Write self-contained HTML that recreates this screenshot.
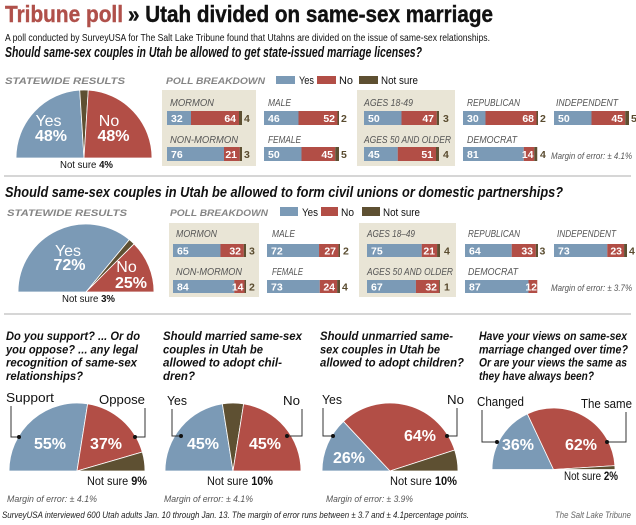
<!DOCTYPE html>
<html><head><meta charset="utf-8"><style>
html,body{margin:0;padding:0;background:#fff;}
svg{display:block;}
text{font-family:"Liberation Sans",Arial,sans-serif;}
.lab{font-size:10px;font-style:italic;fill:#555;}
.num{font-size:10.5px;font-weight:bold;fill:#fff;}
.ns{font-size:10.5px;font-weight:bold;fill:#5a4c30;}
.hd{font-size:9.5px;font-weight:bold;font-style:italic;fill:#858585;}
.lg{font-size:11px;fill:#111;}
.moe{font-size:9.5px;font-style:italic;fill:#555;}
.pw{font-size:16px;fill:#fff;}
.pb{font-size:16px;font-weight:bold;fill:#fff;}
.q{font-size:11.5px;font-weight:bold;font-style:italic;fill:#111;}
.pl{font-size:13px;fill:#111;}
.nsl{font-size:11.5px;fill:#111;}
</style></head><body>
<svg width="636" height="525" viewBox="0 0 636 525" xmlns="http://www.w3.org/2000/svg">
<rect width="636" height="525" fill="#fff"/>
<!-- Title -->
<text x="5" y="22" font-size="23" font-weight="bold" fill="#b0504a" stroke="#b0504a" stroke-width="0.4" textLength="118" lengthAdjust="spacingAndGlyphs">Tribune poll</text>
<text x="128" y="22" font-size="23" font-weight="bold" fill="#111" stroke="#111" stroke-width="0.4" textLength="365" lengthAdjust="spacingAndGlyphs">» Utah divided on same-sex marriage</text>
<text x="5" y="41" font-size="10.5" fill="#111" textLength="485" lengthAdjust="spacingAndGlyphs">A poll conducted by SurveyUSA for The Salt Lake Tribune found that Utahns are divided on the issue of same-sex relationships.</text>
<text x="5" y="57" font-size="14.5" font-weight="bold" font-style="italic" fill="#111" textLength="417" lengthAdjust="spacingAndGlyphs">Should same-sex couples in Utah be allowed to get state-issued marriage licenses?</text>

<!-- Section 1 headers -->
<text class="hd" x="5" y="84" textLength="120" lengthAdjust="spacingAndGlyphs">STATEWIDE RESULTS</text>
<text class="hd" x="166" y="84" textLength="99" lengthAdjust="spacingAndGlyphs">POLL BREAKDOWN</text>
<rect x="276" y="76" width="19" height="8" fill="#7b9ab6"/>
<text class="lg" x="299" y="84" textLength="15" lengthAdjust="spacingAndGlyphs">Yes</text>
<rect x="317" y="76" width="19" height="8" fill="#b24e46"/>
<text class="lg" x="339" y="84" textLength="14" lengthAdjust="spacingAndGlyphs">No</text>
<rect x="359" y="76" width="19" height="8" fill="#5e5032"/>
<text class="lg" x="381" y="84" textLength="37" lengthAdjust="spacingAndGlyphs">Not sure</text>

<!-- Pie 1 -->
<g stroke="#fff" stroke-width="0.8">
<path d="M84,158 L16,158 A68,68 0 0,1 79.73,90.13 Z" fill="#7b9ab6"/>
<path d="M84,158 L79.73,90.13 A68,68 0 0,1 88.27,90.13 Z" fill="#5e5032"/>
<path d="M84,158 L88.27,90.13 A68,68 0 0,1 152,158 Z" fill="#b24e46"/>
</g>
<text class="pw" x="48.5" y="126" text-anchor="middle">Yes</text>
<text class="pb" x="51" y="141" text-anchor="middle">48%</text>
<text class="pw" x="109" y="126" text-anchor="middle">No</text>
<text class="pb" x="113.5" y="141" text-anchor="middle">48%</text>
<text x="60" y="168" font-size="10" fill="#111" textLength="53" lengthAdjust="spacingAndGlyphs">Not sure <tspan font-weight="bold">4%</tspan></text>

<!-- Section 1 breakdown -->
<rect x="162" y="90" width="94" height="76" fill="#e9e5d6"/>
<rect x="357" y="90" width="98" height="76" fill="#e9e5d6"/>

<text class="lab" x="170" y="106" textLength="44" lengthAdjust="spacingAndGlyphs">MORMON</text>
<rect x="167" y="111" width="24" height="14" fill="#7b9ab6"/><rect x="191" y="111" width="48" height="14" fill="#b24e46"/><rect x="239" y="111" width="3" height="14" fill="#5e5032"/>
<text class="num" x="171" y="122">32</text><text class="num" x="236" y="122" text-anchor="end">64</text><text class="ns" x="244" y="122">4</text>

<text class="lab" x="170" y="143" textLength="68" lengthAdjust="spacingAndGlyphs">NON-MORMON</text>
<rect x="167" y="147" width="57" height="14" fill="#7b9ab6"/><rect x="224" y="147" width="15.75" height="14" fill="#b24e46"/><rect x="239.75" y="147" width="2.25" height="14" fill="#5e5032"/>
<text class="num" x="171" y="158">76</text><text class="num" x="237" y="158" text-anchor="end">21</text><text class="ns" x="244" y="158">3</text>

<text class="lab" x="268" y="106" textLength="23" lengthAdjust="spacingAndGlyphs">MALE</text>
<rect x="264" y="111" width="34.5" height="14" fill="#7b9ab6"/><rect x="298.5" y="111" width="39" height="14" fill="#b24e46"/><rect x="337.5" y="111" width="1.5" height="14" fill="#5e5032"/>
<text class="num" x="268" y="122">46</text><text class="num" x="335" y="122" text-anchor="end">52</text><text class="ns" x="341" y="122">2</text>

<text class="lab" x="268" y="143" textLength="33" lengthAdjust="spacingAndGlyphs">FEMALE</text>
<rect x="264" y="147" width="37.5" height="14" fill="#7b9ab6"/><rect x="301.5" y="147" width="33.75" height="14" fill="#b24e46"/><rect x="335.25" y="147" width="3.75" height="14" fill="#5e5032"/>
<text class="num" x="268" y="158">50</text><text class="num" x="333" y="158" text-anchor="end">45</text><text class="ns" x="341" y="158">5</text>

<text class="lab" x="364" y="106" textLength="49" lengthAdjust="spacingAndGlyphs">AGES 18-49</text>
<rect x="364" y="111" width="37.5" height="14" fill="#7b9ab6"/><rect x="401.5" y="111" width="35.25" height="14" fill="#b24e46"/><rect x="436.75" y="111" width="2.25" height="14" fill="#5e5032"/>
<text class="num" x="368" y="122">50</text><text class="num" x="434" y="122" text-anchor="end">47</text><text class="ns" x="443" y="122">3</text>

<text class="lab" x="364" y="143" textLength="87" lengthAdjust="spacingAndGlyphs">AGES 50 AND OLDER</text>
<rect x="364" y="147" width="33.75" height="14" fill="#7b9ab6"/><rect x="397.75" y="147" width="38.25" height="14" fill="#b24e46"/><rect x="436" y="147" width="3" height="14" fill="#5e5032"/>
<text class="num" x="368" y="158">45</text><text class="num" x="433" y="158" text-anchor="end">51</text><text class="ns" x="443" y="158">4</text>

<text class="lab" x="467" y="106" textLength="53" lengthAdjust="spacingAndGlyphs">REPUBLICAN</text>
<rect x="463" y="111" width="22.5" height="14" fill="#7b9ab6"/><rect x="485.5" y="111" width="51" height="14" fill="#b24e46"/><rect x="536.5" y="111" width="1.5" height="14" fill="#5e5032"/>
<text class="num" x="467" y="122">30</text><text class="num" x="534" y="122" text-anchor="end">68</text><text class="ns" x="540" y="122">2</text>

<text class="lab" x="467" y="143" textLength="50" lengthAdjust="spacingAndGlyphs">DEMOCRAT</text>
<rect x="463" y="147" width="60.75" height="14" fill="#7b9ab6"/><rect x="523.75" y="147" width="10.5" height="14" fill="#b24e46"/><rect x="534.25" y="147" width="3" height="14" fill="#5e5032"/>
<text class="num" x="467" y="158">81</text><text class="num" x="533.5" y="158" text-anchor="end">14</text><text class="ns" x="540" y="158">4</text>

<text class="lab" x="556" y="106" textLength="62" lengthAdjust="spacingAndGlyphs">INDEPENDENT</text>
<rect x="554" y="111" width="37.5" height="14" fill="#7b9ab6"/><rect x="591.5" y="111" width="33.75" height="14" fill="#b24e46"/><rect x="625.25" y="111" width="3.75" height="14" fill="#5e5032"/>
<text class="num" x="558" y="122">50</text><text class="num" x="623" y="122" text-anchor="end">45</text><text class="ns" x="631" y="122">5</text>

<text class="moe" x="551" y="159" textLength="81" lengthAdjust="spacingAndGlyphs">Margin of error: ± 4.1%</text>

<line x1="4" y1="176" x2="631" y2="176" stroke="#c8c8c8" stroke-width="1.5"/>

<!-- Section 2 -->
<text x="5" y="197" font-size="14.5" font-weight="bold" font-style="italic" fill="#111" textLength="558" lengthAdjust="spacingAndGlyphs">Should same-sex couples in Utah be allowed to form civil unions or domestic partnerships?</text>
<text class="hd" x="7" y="216" textLength="120" lengthAdjust="spacingAndGlyphs">STATEWIDE RESULTS</text>
<text class="hd" x="170" y="216" textLength="98" lengthAdjust="spacingAndGlyphs">POLL BREAKDOWN</text>
<rect x="280" y="207" width="18" height="9" fill="#7b9ab6"/>
<text class="lg" x="302" y="216" textLength="16" lengthAdjust="spacingAndGlyphs">Yes</text>
<rect x="321" y="207" width="17" height="9" fill="#b24e46"/>
<text class="lg" x="341" y="216" textLength="13" lengthAdjust="spacingAndGlyphs">No</text>
<rect x="362" y="207" width="18" height="9" fill="#5e5032"/>
<text class="lg" x="383" y="216" textLength="37" lengthAdjust="spacingAndGlyphs">Not sure</text>

<g stroke="#fff" stroke-width="0.8">
<path d="M86,292 L18,292 A68,68 0 0,1 129.34,239.61 Z" fill="#7b9ab6"/>
<path d="M86,292 L129.34,239.61 A68,68 0 0,1 134.08,243.92 Z" fill="#5e5032"/>
<path d="M86,292 L134.08,243.92 A68,68 0 0,1 154,292 Z" fill="#b24e46"/>
</g>
<text class="pw" x="68" y="256" text-anchor="middle">Yes</text>
<text class="pb" x="69.5" y="270" text-anchor="middle">72%</text>
<text class="pw" x="126.5" y="272" text-anchor="middle">No</text>
<text class="pb" x="131" y="288" text-anchor="middle">25%</text>
<text x="62" y="302" font-size="10" fill="#111" textLength="53" lengthAdjust="spacingAndGlyphs">Not sure <tspan font-weight="bold">3%</tspan></text>

<rect x="169" y="223" width="90" height="74" fill="#e9e5d6"/>
<rect x="359" y="223" width="97" height="74" fill="#e9e5d6"/>

<text class="lab" x="176" y="237" textLength="41" lengthAdjust="spacingAndGlyphs">MORMON</text>
<rect x="173" y="244" width="47.45" height="13" fill="#7b9ab6"/><rect x="220.45" y="244" width="23.36" height="13" fill="#b24e46"/><rect x="243.81" y="244" width="2.19" height="13" fill="#5e5032"/>
<text class="num" x="177" y="254.5">65</text><text class="num" x="241" y="254.5" text-anchor="end">32</text><text class="ns" x="249" y="254.5">3</text>

<text class="lab" x="176" y="275" textLength="66" lengthAdjust="spacingAndGlyphs">NON-MORMON</text>
<rect x="173" y="280" width="61.32" height="13" fill="#7b9ab6"/><rect x="234.32" y="280" width="10.22" height="13" fill="#b24e46"/><rect x="244.54" y="280" width="1.46" height="13" fill="#5e5032"/>
<text class="num" x="177" y="290.5">84</text><text class="num" x="243.5" y="290.5" text-anchor="end">14</text><text class="ns" x="249" y="290.5">2</text>

<text class="lab" x="272" y="237" textLength="23" lengthAdjust="spacingAndGlyphs">MALE</text>
<rect x="267" y="244" width="52.04" height="13" fill="#7b9ab6"/><rect x="319.04" y="244" width="19.52" height="13" fill="#b24e46"/><rect x="338.56" y="244" width="1.44" height="13" fill="#5e5032"/>
<text class="num" x="271" y="254.5">72</text><text class="num" x="336" y="254.5" text-anchor="end">27</text><text class="ns" x="343" y="254.5">2</text>

<text class="lab" x="272" y="275" textLength="31" lengthAdjust="spacingAndGlyphs">FEMALE</text>
<rect x="267" y="280" width="52.76" height="13" fill="#7b9ab6"/><rect x="319.76" y="280" width="17.35" height="13" fill="#b24e46"/><rect x="337.11" y="280" width="2.89" height="13" fill="#5e5032"/>
<text class="num" x="271" y="290.5">73</text><text class="num" x="335" y="290.5" text-anchor="end">24</text><text class="ns" x="342" y="290.5">4</text>

<text class="lab" x="367" y="237" textLength="48" lengthAdjust="spacingAndGlyphs">AGES 18–49</text>
<rect x="367" y="244" width="54.75" height="13" fill="#7b9ab6"/><rect x="421.75" y="244" width="15.33" height="13" fill="#b24e46"/><rect x="437.08" y="244" width="2.92" height="13" fill="#5e5032"/>
<text class="num" x="371" y="254.5">75</text><text class="num" x="435" y="254.5" text-anchor="end">21</text><text class="ns" x="444" y="254.5">4</text>

<text class="lab" x="367" y="275" textLength="86" lengthAdjust="spacingAndGlyphs">AGES 50 AND OLDER</text>
<rect x="367" y="280" width="48.91" height="13" fill="#7b9ab6"/><rect x="415.91" y="280" width="23.36" height="13" fill="#b24e46"/><rect x="439.27" y="280" width="0.73" height="13" fill="#5e5032"/>
<text class="num" x="371" y="290.5">67</text><text class="num" x="437" y="290.5" text-anchor="end">32</text><text class="ns" x="444" y="290.5">1</text>

<text class="lab" x="468" y="237" textLength="52" lengthAdjust="spacingAndGlyphs">REPUBLICAN</text>
<rect x="465" y="244" width="46.72" height="13" fill="#7b9ab6"/><rect x="511.72" y="244" width="24.09" height="13" fill="#b24e46"/><rect x="535.81" y="244" width="2.19" height="13" fill="#5e5032"/>
<text class="num" x="469" y="254.5">64</text><text class="num" x="533" y="254.5" text-anchor="end">33</text><text class="ns" x="539.5" y="254.5">3</text>

<text class="lab" x="468" y="275" textLength="50" lengthAdjust="spacingAndGlyphs">DEMOCRAT</text>
<rect x="465" y="280" width="63.51" height="13" fill="#7b9ab6"/><rect x="528.51" y="280" width="8.76" height="13" fill="#b24e46"/>
<text class="num" x="469" y="290.5">87</text><text class="num" x="537" y="290.5" text-anchor="end">12</text>

<text class="lab" x="557" y="237" textLength="59" lengthAdjust="spacingAndGlyphs">INDEPENDENT</text>
<rect x="554" y="244" width="53.29" height="13" fill="#7b9ab6"/><rect x="607.29" y="244" width="16.79" height="13" fill="#b24e46"/><rect x="624.08" y="244" width="2.92" height="13" fill="#5e5032"/>
<text class="num" x="558" y="254.5">73</text><text class="num" x="622" y="254.5" text-anchor="end">23</text><text class="ns" x="629" y="254.5">4</text>

<text class="moe" x="551" y="291" textLength="81" lengthAdjust="spacingAndGlyphs">Margin of error: ± 3.7%</text>

<line x1="4" y1="314" x2="631" y2="314" stroke="#c8c8c8" stroke-width="1.5"/>

<!-- Bottom questions -->
<text class="q" x="6" y="340" textLength="134" lengthAdjust="spacingAndGlyphs">Do you support? ... Or do</text>
<text class="q" x="6" y="353.3" textLength="132" lengthAdjust="spacingAndGlyphs">you oppose? ... any legal</text>
<text class="q" x="6" y="366.6" textLength="131" lengthAdjust="spacingAndGlyphs">recognition of same-sex</text>
<text class="q" x="6" y="380" textLength="77" lengthAdjust="spacingAndGlyphs">relationships?</text>

<text class="q" x="163" y="340" textLength="139" lengthAdjust="spacingAndGlyphs">Should married same-sex</text>
<text class="q" x="163" y="353.3" textLength="100" lengthAdjust="spacingAndGlyphs">couples in Utah be</text>
<text class="q" x="163" y="366.6" textLength="119" lengthAdjust="spacingAndGlyphs">allowed to adopt chil-</text>
<text class="q" x="163" y="380" textLength="32" lengthAdjust="spacingAndGlyphs">dren?</text>

<text class="q" x="320" y="340" textLength="133" lengthAdjust="spacingAndGlyphs">Should unmarried same-</text>
<text class="q" x="320" y="353.3" textLength="120" lengthAdjust="spacingAndGlyphs">sex couples in Utah be</text>
<text class="q" x="320" y="366.6" textLength="144" lengthAdjust="spacingAndGlyphs">allowed to adopt children?</text>

<text class="q" x="479" y="340" textLength="148" lengthAdjust="spacingAndGlyphs">Have your views on same-sex</text>
<text class="q" x="479" y="353.3" textLength="149" lengthAdjust="spacingAndGlyphs">marriage changed over time?</text>
<text class="q" x="479" y="366.6" textLength="148" lengthAdjust="spacingAndGlyphs">Or are your views the same as</text>
<text class="q" x="479" y="380" textLength="115" lengthAdjust="spacingAndGlyphs">they have always been?</text>

<!-- Pie 3 -->
<g stroke="#fff" stroke-width="0.8">
<path d="M77,471 L9,471 A68,68 0 0,1 87.64,403.84 Z" fill="#7b9ab6"/>
<path d="M77,471 L87.64,403.84 A68,68 0 0,1 142.3,452.03 Z" fill="#b24e46"/>
<path d="M77,471 L142.3,452.03 A68,68 0 0,1 145,471 Z" fill="#5e5032"/>
</g>
<text class="pb" x="50" y="449" text-anchor="middle">55%</text>
<text class="pb" x="106" y="449" text-anchor="middle">37%</text>
<text class="pl" x="6" y="402" textLength="48" lengthAdjust="spacingAndGlyphs">Support</text>
<text class="pl" x="99" y="404" textLength="46" lengthAdjust="spacingAndGlyphs">Oppose</text>
<polyline points="11,406 11,437 19,437" fill="none" stroke="#333" stroke-width="1"/>
<circle cx="19" cy="437" r="2" fill="#111"/>
<polyline points="145,408 145,437 135,437" fill="none" stroke="#333" stroke-width="1"/>
<circle cx="135" cy="437" r="2" fill="#111"/>
<text class="nsl" x="87" y="485" textLength="60" lengthAdjust="spacingAndGlyphs">Not sure <tspan font-weight="bold">9%</tspan></text>
<text class="moe" x="7" y="502" font-size="10" fill="#777" textLength="90" lengthAdjust="spacingAndGlyphs">Margin of error: ± 4.1%</text>

<!-- Pie 4 -->
<g stroke="#fff" stroke-width="0.8">
<path d="M233,471 L165,471 A68,68 0 0,1 222.36,403.84 Z" fill="#7b9ab6"/>
<path d="M233,471 L222.36,403.84 A68,68 0 0,1 243.64,403.84 Z" fill="#5e5032"/>
<path d="M233,471 L243.64,403.84 A68,68 0 0,1 301,471 Z" fill="#b24e46"/>
</g>
<text class="pb" x="203" y="449" text-anchor="middle">45%</text>
<text class="pb" x="265" y="449" text-anchor="middle">45%</text>
<text class="pl" x="167" y="405" textLength="20" lengthAdjust="spacingAndGlyphs">Yes</text>
<text class="pl" x="283" y="405" textLength="17" lengthAdjust="spacingAndGlyphs">No</text>
<polyline points="172,409 172,436 181,436" fill="none" stroke="#333" stroke-width="1"/>
<circle cx="181" cy="436" r="2" fill="#111"/>
<polyline points="302,409 302,436 287,436" fill="none" stroke="#333" stroke-width="1"/>
<circle cx="287" cy="436" r="2" fill="#111"/>
<text class="nsl" x="207" y="485" textLength="66" lengthAdjust="spacingAndGlyphs">Not sure <tspan font-weight="bold">10%</tspan></text>
<text class="moe" x="164" y="502" font-size="10" fill="#777" textLength="89" lengthAdjust="spacingAndGlyphs">Margin of error: ± 4.1%</text>

<!-- Pie 5 -->
<g stroke="#fff" stroke-width="0.8">
<path d="M390,471 L322,471 A68,68 0 0,1 343.45,421.43 Z" fill="#7b9ab6"/>
<path d="M390,471 L343.45,421.43 A68,68 0 0,1 454.67,449.99 Z" fill="#b24e46"/>
<path d="M390,471 L454.67,449.99 A68,68 0 0,1 458,471 Z" fill="#5e5032"/>
</g>
<text class="pb" x="349" y="463" text-anchor="middle">26%</text>
<text class="pb" x="420" y="441" text-anchor="middle">64%</text>
<text class="pl" x="322" y="404" textLength="20" lengthAdjust="spacingAndGlyphs">Yes</text>
<text class="pl" x="447" y="404" textLength="17" lengthAdjust="spacingAndGlyphs">No</text>
<polyline points="323,408 323,436 333,436" fill="none" stroke="#333" stroke-width="1"/>
<circle cx="333" cy="436" r="2" fill="#111"/>
<polyline points="457,408 457,436 447,436" fill="none" stroke="#333" stroke-width="1"/>
<circle cx="447" cy="436" r="2" fill="#111"/>
<text class="nsl" x="390" y="485" textLength="67" lengthAdjust="spacingAndGlyphs">Not sure <tspan font-weight="bold">10%</tspan></text>
<text class="moe" x="326" y="502" font-size="10" fill="#777" textLength="87" lengthAdjust="spacingAndGlyphs">Margin of error: ± 3.9%</text>

<!-- Pie 6 -->
<g stroke="#fff" stroke-width="0.8">
<path d="M553.5,469.5 L492,469.5 A61.5,61.5 0 0,1 527.31,413.85 Z" fill="#7b9ab6"/>
<path d="M553.5,469.5 L527.31,413.85 A61.5,61.5 0 0,1 614.88,465.64 Z" fill="#b24e46"/>
<path d="M553.5,469.5 L614.88,465.64 A61.5,61.5 0 0,1 615,469.5 Z" fill="#5e5032"/>
</g>
<text class="pb" x="518" y="450" text-anchor="middle">36%</text>
<text class="pb" x="581" y="450" text-anchor="middle">62%</text>
<text class="pl" x="477" y="406" textLength="47" lengthAdjust="spacingAndGlyphs">Changed</text>
<text class="pl" x="581" y="408" textLength="51" lengthAdjust="spacingAndGlyphs">The same</text>
<polyline points="482,410 482,442 497,442" fill="none" stroke="#333" stroke-width="1"/>
<circle cx="497" cy="442" r="2" fill="#111"/>
<polyline points="626,412 626,442 607,442" fill="none" stroke="#333" stroke-width="1"/>
<circle cx="607" cy="442" r="2" fill="#111"/>
<text class="nsl" x="564" y="480" textLength="54" lengthAdjust="spacingAndGlyphs">Not sure <tspan font-weight="bold">2%</tspan></text>

<!-- Footer -->
<text x="2" y="518" font-size="9.5" font-style="italic" fill="#222" textLength="467" lengthAdjust="spacingAndGlyphs">SurveyUSA interviewed 600 Utah adults Jan. 10 through Jan. 13. The margin of error runs between ± 3.7 and ± 4.1percentage points.</text>
<text x="555" y="518" font-size="9.5" font-style="italic" fill="#666" textLength="76" lengthAdjust="spacingAndGlyphs">The Salt Lake Tribune</text>
</svg>
</body></html>
